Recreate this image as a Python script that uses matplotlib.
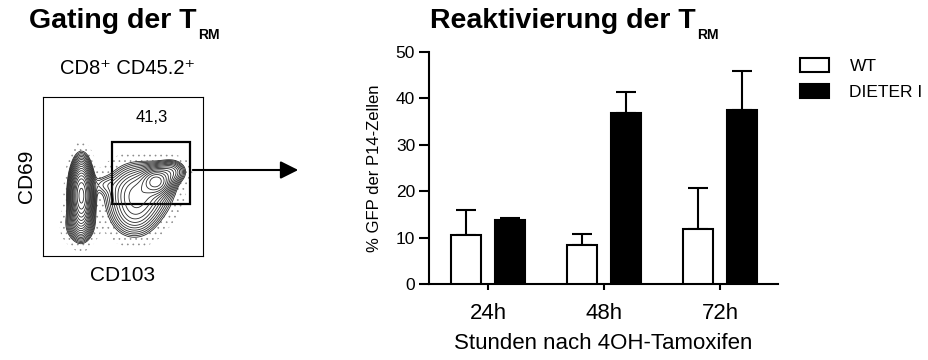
import numpy as np
import matplotlib
matplotlib.use("Agg")
import matplotlib.pyplot as plt
from matplotlib.patches import Rectangle, Patch, FancyArrowPatch

plt.rcParams['font.family'] = ['Liberation Sans', 'DejaVu Sans']
plt.rcParams['hatch.color'] = '#8a8a8a'
plt.rcParams['hatch.linewidth'] = 0.45

# bar chart data (% GFP of P14 cells)
timepoints = ["24h", "48h", "72h"]
wt_mean = [10.5, 8.4, 11.8]
wt_err = [5.4, 2.4, 8.8]
dieter_mean = [13.8, 36.9, 37.6]
dieter_err = [0.5, 4.4, 8.4]
series_labels = ["WT", "DIETER I"]

# flow plot: population blobs (x, y, sigma_x, sigma_y, weight) in gate-box units
blob_x = [0.24, 0.23, 0.60, 0.71, 0.80, 0.57, 0.38]
blob_y = [0.38, 0.20, 0.40, 0.47, 0.53, 0.26, 0.45]
blob_sx = [0.033, 0.05, 0.10, 0.05, 0.05, 0.08, 0.05]
blob_sy = [0.10, 0.06, 0.09, 0.045, 0.04, 0.08, 0.035]
blob_w = [1.0, 0.08, 0.2, 0.35, 0.1, 0.09, 0.025]
gate = (0.43, 0.33, 0.49, 0.39)   # x, y, w, h
gate_pct = "41,3"

W, H = 929, 360
fig = plt.figure(figsize=(W / 100, H / 100), dpi=100)

# ---- left: gating contour plot
ax1 = fig.add_axes([43 / W, 1 - 256 / H, 160 / W, 159 / H])
gx, gy = np.meshgrid(np.linspace(0, 1, 300), np.linspace(0, 1, 300))
dens = np.zeros_like(gx)
for x0, y0, sx, sy, w in zip(blob_x, blob_y, blob_sx, blob_sy, blob_w):
    dens += w * np.exp(-((gx - x0) ** 2 / (2 * sx ** 2) + (gy - y0) ** 2 / (2 * sy ** 2)))
dens /= dens.max()
ax1.contourf(gx, gy, dens, levels=[0.003, 0.02], colors='none', hatches=['...'])
levels = np.geomspace(0.02, 0.9, 18)
ax1.contour(gx, gy, dens, levels=levels, colors='#2a2a2a', linewidths=0.6)
ax1.add_patch(Rectangle(gate[:2], gate[2], gate[3], fill=False, lw=1.6, ec='black'))
ax1.text(0.68, 0.87, gate_pct, ha='center', va='center', fontsize=12)
ax1.set_xlim(0, 1)
ax1.set_ylim(0, 1)
ax1.set_xticks([])
ax1.set_yticks([])
for s in ax1.spines.values():
    s.set_linewidth(0.8)
ax1.set_xlabel("CD103", fontsize=15, labelpad=7)
ax1.set_ylabel("CD69", fontsize=15, labelpad=5)
fig.text(127 / W, 1 - 69 / H, "CD8\u207a CD45.2\u207a", ha='center', va='center', fontsize=14.5)

# arrow from gate to bar chart
fig.patches.append(FancyArrowPatch(
    (190 / W, 1 - 170 / H), (301 / W, 1 - 170 / H), transform=fig.transFigure,
    arrowstyle='-|>', mutation_scale=27, lw=1.5, color='black'))

# ---- right: bar chart
ax2 = fig.add_axes([429 / W, 76 / H, 349 / W, 232 / H])
x = np.arange(len(timepoints))
bw = 0.26
off = 0.19
ax2.bar(x - off, wt_mean, bw, color='white', edgecolor='black', lw=1.5, zorder=3)
ax2.bar(x + off, dieter_mean, bw, color='black', edgecolor='black', lw=1.5, zorder=3)
ax2.errorbar(x - off, wt_mean, yerr=[np.zeros(3), wt_err], fmt='none', ecolor='black',
             elinewidth=1.5, capsize=7, capthick=1.5, zorder=2)
ax2.errorbar(x + off, dieter_mean, yerr=[np.zeros(3), dieter_err], fmt='none', ecolor='black',
             elinewidth=1.5, capsize=7, capthick=1.5, zorder=2)
ax2.set_xlim(-0.51, 2.5)
ax2.set_ylim(0, 50)
ax2.set_yticks([0, 10, 20, 30, 40, 50])
ax2.set_xticks(x)
ax2.set_xticklabels(timepoints, fontsize=16)
ax2.tick_params(axis='y', labelsize=12.5, width=1.5, length=7, pad=3)
ax2.tick_params(axis='x', width=1.5, length=4.5, pad=9)
for s in ['top', 'right']:
    ax2.spines[s].set_visible(False)
for s in ['left', 'bottom']:
    ax2.spines[s].set_linewidth(1.5)
ax2.set_xlabel("Stunden nach 4OH-Tamoxifen", fontsize=16, labelpad=7)
ax2.set_ylabel("% GFP der P14-Zellen", fontsize=12, labelpad=10)

handles = [Patch(facecolor='white', edgecolor='black', lw=1.5),
           Patch(facecolor='black', edgecolor='black', lw=1.5)]
fig.legend(handles, series_labels, loc='upper left', bbox_to_anchor=(800 / W, 1 - 58 / H),
           frameon=False, fontsize=12.5, handlelength=1.65, handleheight=0.9,
           handletextpad=1.2, labelspacing=0.55, borderpad=0, borderaxespad=0)

# titles with subscript
renderer = fig.canvas.get_renderer()
for tx, title in [(29, "Gating der T"), (430, "Reaktivierung der T")]:
    t = fig.text(tx / W, 1 - 28 / H, title, fontsize=20.5, fontweight='bold',
                 ha='left', va='baseline')
    bb = t.get_window_extent(renderer)
    fig.text(bb.x1 / W + 2 / W, 1 - 39 / H, "RM", fontsize=10, fontweight='bold',
             ha='left', va='baseline')

fig.savefig("out.png", dpi=100)
